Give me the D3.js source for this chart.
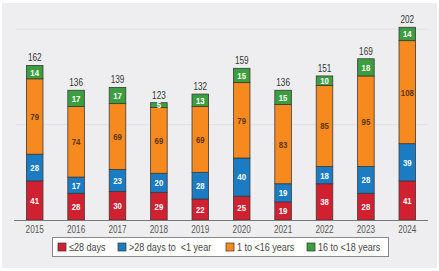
<!DOCTYPE html>
<html>
<head>
<meta charset="utf-8">
<script src="https://cdn.jsdelivr.net/npm/d3@7"></script>
<style>
  body { margin: 0; background: #fff; }
  text { font-family: "Liberation Sans", Arial, sans-serif; }
</style>
</head>
<body>
<div id="chart"></div>
<script>
// chart data
let years = ["2015", "2016", "2017", "2018", "2019", "2020", "2021", "2022", "2023", "2024"];
let under28d = [41, 28, 30, 29, 22, 25, 19, 38, 28, 41];
let to1y = [28, 17, 23, 20, 28, 40, 19, 18, 28, 39];
let to16y = [79, 74, 69, 69, 69, 79, 83, 85, 95, 108];
let to18y = [14, 17, 17, 5, 13, 15, 15, 10, 18, 14];
let seriesNames = ["\u226428 days", ">28 days to  <1 year", "1 to <16 years", "16 to <18 years"];
let gridValues = [100, 200];

let colors = ["#d12130", "#1b7cc3", "#f68a1e", "#3b9e3f"];
let labelColors = ["#fff", "#fff", "#5a3510", "#fff"];

// the source font is condensed, squeeze text horizontally
let squeeze = 0.82;

let svg_width = 439;
let svg_height = 271;

let svg = d3.select("#chart")
  .append("svg")
  .attr("width", svg_width)
  .attr("height", svg_height);

// gray panel
svg.append("rect")
  .attr("x", 2).attr("y", 3)
  .attr("width", 435).attr("height", 265)
  .attr("fill", "#eeeef0");

let x0 = 14, x1 = 428, baseY = 220;

let xScale = d3.scaleBand()
  .domain(years)
  .range([x0, x1])
  .paddingInner(0.6)
  .paddingOuter(0.3);

let yScale = d3.scaleLinear()
  .domain([0, 202])
  .range([baseY, 27.3]);

// gridlines
svg.selectAll(".grid")
  .data(gridValues)
  .enter()
  .append("line")
  .attr("x1", 16).attr("x2", x1)
  .attr("y1", d => yScale(d)).attr("y2", d => yScale(d))
  .attr("stroke", "#e2e2e4")
  .attr("stroke-width", 1);

let table = years.map((y, i) => ({
  year: y,
  s0: under28d[i], s1: to1y[i], s2: to16y[i], s3: to18y[i]
}));

let stack = d3.stack().keys(["s0", "s1", "s2", "s3"])(table);

let layers = svg.selectAll(".layer")
  .data(stack)
  .enter()
  .append("g")
  .attr("fill", (d, i) => colors[i]);

layers.selectAll("rect")
  .data(d => d)
  .enter()
  .append("rect")
  .attr("x", d => xScale(d.data.year))
  .attr("y", d => yScale(d[1]))
  .attr("width", xScale.bandwidth())
  .attr("height", d => yScale(d[0]) - yScale(d[1]))
  .attr("stroke", "#3a3a3a")
  .attr("stroke-width", 0.8);

let cx = d => xScale(d) + xScale.bandwidth() / 2;

// segment labels
stack.forEach(function(layer, i) {
  svg.append("g").selectAll("text")
    .data(layer)
    .enter()
    .append("text")
    .attr("transform", d => `translate(${cx(d.data.year)}, ${(yScale(d[0]) + yScale(d[1])) / 2 + 3.4}) scale(${squeeze}, 1)`)
    .attr("text-anchor", "middle")
    .attr("font-size", "9.5px")
    .attr("font-weight", "bold")
    .attr("fill", labelColors[i])
    .text(d => d[1] - d[0]);
});

// totals
svg.append("g").selectAll("text")
  .data(table)
  .enter()
  .append("text")
  .attr("transform", d => `translate(${cx(d.year)}, ${yScale(d.s0 + d.s1 + d.s2 + d.s3) - 4}) scale(${squeeze}, 1)`)
  .attr("text-anchor", "middle")
  .attr("font-size", "10px")
  .attr("fill", "#333")
  .text(d => d.s0 + d.s1 + d.s2 + d.s3);

// x axis
let xAxis = svg.append("g")
  .attr("transform", `translate(0, ${baseY})`)
  .call(d3.axisBottom(xScale).tickSize(0).tickPadding(0));
xAxis.select(".domain").attr("stroke", "#777").attr("d", `M${x0},0.5H${x1}`);
xAxis.selectAll("text")
  .attr("y", 0)
  .attr("dy", 0)
  .attr("transform", `translate(0, 13) scale(${squeeze}, 1)`)
  .attr("font-size", "10px")
  .attr("fill", "#555")
  .style("font-family", "'Liberation Sans', Arial, sans-serif");

// legend
let legend = svg.append("g");
legend.append("rect")
  .attr("x", 52.5).attr("y", 237.5)
  .attr("width", 336).attr("height", 19)
  .attr("fill", "#fff")
  .attr("stroke", "#888")
  .attr("stroke-width", 1);

let legendX = [58, 118, 226, 307];
seriesNames.forEach(function(name, i) {
  legend.append("rect")
    .attr("x", legendX[i]).attr("y", 243)
    .attr("width", 8).attr("height", 8)
    .attr("fill", colors[i])
    .attr("stroke", "#333")
    .attr("stroke-width", 0.7);
  legend.append("text")
    .attr("transform", `translate(${legendX[i] + 11}, 251) scale(${squeeze}, 1)`)
    .attr("font-size", "11px")
    .attr("fill", "#444")
    .style("white-space", "pre")
    .text(name);
});
</script>
</body>
</html>
